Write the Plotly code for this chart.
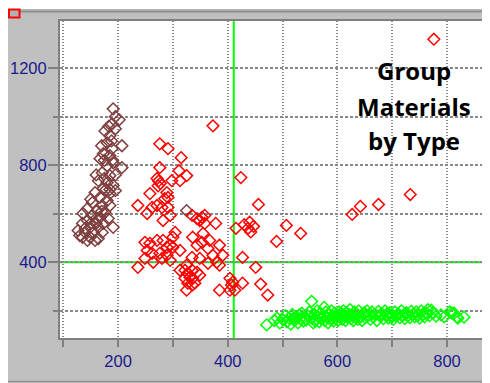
import plotly.graph_objects as go

# ---------------- data ----------------
brown_x = [191,202,189,176,195,185,207,180,189,173,185,167,191,180,207,171,185,164,180,191,
           173,158,185,167,180,195,153,171,185,144,162,176,136,153,167,182,144,158,173,135,
           149,164,127,140,155,171,135,149,164,144,158,191,160,175,190,170,183,195,178,150,
           160,150,140,130,160,170,185,195,175,188,325]
brown_y = [1032,987,970,941,950,921,880,892,868,847,839,827,810,798,790,769,757,736,728,716,
           704,687,683,667,654,695,646,634,634,621,613,605,601,593,585,580,572,564,560,560,
           544,544,531,523,523,523,503,503,498,490,490,544,760,745,820,880,960,1000,700,660,
           580,560,540,510,560,610,700,760,820,900,613]

red_x = [373,276,291,315,276,311,325,313,298,271,274,277,273,424,258,289,291,285,
         236,262,271,280,291,253,282,295,335,344,349,353,358,378,358,
         304,300,249,258,271,282,295,289,300,313,336,355,353,367,344,364,385,253,262,276,289,
         249,264,280,236,295,335,349,373,391,380,364,385,
         313,325,322,327,335,331,336,322,344,327,335,325,340,349,385,404,409,407,413,404,
         415,430,440,437,442,447,456,507,533,489,427,451,427,460,473,627,642,675,733,776]
red_y = [962,888,868,831,790,777,757,736,736,745,735,725,715,749,683,687,667,662,
         634,626,634,626,626,601,572,593,593,580,572,585,593,560,560,
         523,503,482,478,490,490,470,462,462,449,503,519,482,490,470,457,470,449,437,437,429,
         416,400,416,379,408,420,416,429,429,400,396,388,
         367,388,367,355,367,338,334,334,359,314,306,285,314,347,285,334,318,306,285,285,
         540,555,565,540,525,548,638,552,519,486,420,379,314,310,265,597,630,638,679,1319]

green_x = [471,485,490,495,500,505,508,512,515,518,522,525,528,532,535,538,540,
           543,546,549,553,556,558,561,563,565,567,569,571,575,577,579,581,583,585,587,589,
           591,593,595,597,599,601,603,605,607,609,611,613,615,617,619,621,623,625,627,629,
           631,633,635,637,639,642,645,648,651,654,657,660,663,666,669,672,675,678,681,684,
           687,690,693,696,699,702,705,708,711,714,717,720,723,726,729,732,735,738,741,744,
           747,750,753,756,759,762,765,768,771,775,780,789,795,805,809,813,818,820,831,
           553,576,520,560,590,610,640,680,700,530,570,600,650,690,725]
green_y = [142,160,170,150,165,180,155,170,145,185,160,175,150,168,190,158,175,
           162,180,195,170,150,185,165,200,175,155,190,170,180,160,195,172,150,185,165,200,
           178,158,190,170,182,160,195,175,188,165,200,178,160,192,172,185,205,168,180,160,
           195,175,188,165,200,178,160,190,172,200,182,165,195,175,185,160,198,178,188,168,
           200,180,170,192,182,165,195,178,188,172,200,182,168,192,180,172,198,185,175,195,
           180,170,200,185,175,190,205,180,203,192,178,183,175,195,191,190,174,170,174,
           239,214,170,158,168,185,170,182,175,182,168,178,190,186,185]

x_ticks = [200, 400, 600, 800]
y_ticks = [400, 800, 1200]
title_lines = ["Group", "Materials", "by Type"]
h_line_y = 400
v_line_x = 411

# ---------------- figure ----------------
OFF = 8                      # page body margin of the html page
W, H = 490 - OFF, 383 - OFF  # figure size
PL, PR, PT, PB = 60, 484, 21, 338   # plot area in window pixels
L, T = PL - OFF, PT - OFF
R, B = W - (PR - OFF), H - (PB - OFF)
pw, ph = PR - PL, PB - PT

def px(p):  # window pixel x -> paper
    return (p - PL) / pw

def py(p):  # window pixel y -> paper
    return 1 - (p - PT) / ph

mk = dict(symbol="diamond-open", size=9, line=dict(width=1.5))
fig = go.Figure()
fig.add_trace(go.Scatter(x=brown_x, y=brown_y, mode="markers",
                         marker=dict(mk, color="#7f3f3f"), name="A"))
fig.add_trace(go.Scatter(x=red_x, y=red_y, mode="markers",
                         marker=dict(mk, color="#ff0000"), name="B"))
fig.add_trace(go.Scatter(x=green_x, y=green_y, mode="markers",
                         marker=dict(mk, color="#00ff00"), name="C"))

tickfont = dict(family="Liberation Sans, Arial, sans-serif", size=16.5, color="#1a1a8c")

fig.update_layout(
    template="none",
    width=W, height=H,
    margin=dict(l=L, r=R, t=T, b=B, autoexpand=False),
    paper_bgcolor="#c0c0c0",
    plot_bgcolor="white",
    showlegend=False,
    xaxis=dict(range=[94, 867.5], tickvals=x_ticks, ticks="outside", ticklen=7,
               tickcolor="#808080", tickwidth=1.5, tickfont=tickfont,
               showgrid=True, gridcolor="#888888", gridwidth=2, griddash="1px,2px",
               minor=dict(dtick=100, tick0=0, ticks="outside", ticklen=7, tickcolor="#808080",
                          showgrid=True, gridcolor="#888888", gridwidth=2, griddash="1px,2px"),
               showline=True, linecolor="#808080", linewidth=2, mirror=True,
               zeroline=False, automargin=False, fixedrange=True),
    yaxis=dict(range=[88, 1394], tickvals=y_ticks, ticks="outside", ticklen=10,
               tickcolor="#808080", tickwidth=1.5, tickfont=tickfont, ticklabelstandoff=-2,
               showgrid=True, gridcolor="#888888", gridwidth=1.5, griddash="3px,2px",
               minor=dict(dtick=200, tick0=0, ticks="outside", ticklen=5, tickcolor="#808080",
                          showgrid=True, gridcolor="#888888", gridwidth=1.5, griddash="3px,2px"),
               showline=True, linecolor="#808080", linewidth=2, mirror=True,
               zeroline=False, automargin=False, fixedrange=True),
)

shapes = []
# white strips around the grey frame
shapes.append(dict(type="rect", xref="paper", yref="paper", x0=px(-2), x1=px(W + OFF + 2), y0=py(-2), y1=py(9),
                   fillcolor="white", line=dict(width=0), layer="below"))
shapes.append(dict(type="rect", xref="paper", yref="paper", x0=px(488), x1=px(W + OFF + 2), y0=py(-2), y1=py(H + OFF + 2),
                   fillcolor="white", line=dict(width=0), layer="below"))
# frame edge lines
shapes.append(dict(type="line", xref="paper", yref="paper", x0=px(487), x1=px(487), y0=py(9), y1=py(382),
                   line=dict(color="#909090", width=1.5), layer="below"))
shapes.append(dict(type="line", xref="paper", yref="paper", x0=px(6), x1=px(488), y0=py(381.5), y1=py(381.5),
                   line=dict(color="#909090", width=1.5), layer="below"))
# top bar
shapes.append(dict(type="rect", xref="paper", yref="paper", x0=px(6), x1=px(488), y0=py(9), y1=py(13.5),
                   fillcolor="#b4b4b4", line=dict(width=0), layer="below"))
shapes.append(dict(type="line", xref="paper", yref="paper", x0=px(6), x1=px(488), y0=py(11.5), y1=py(11.5),
                   line=dict(color="#8c8c8c", width=1.5), layer="below"))
# small red square at top left
shapes.append(dict(type="rect", xref="paper", yref="paper", x0=px(9), x1=px(19.5), y0=py(9.5), y1=py(17.5),
                   fillcolor="#b0b0b0", line=dict(color="#ff0000", width=2), layer="below"))
# green cross lines
shapes.append(dict(type="line", xref="paper", yref="y", x0=0, x1=1, y0=h_line_y, y1=h_line_y,
                   line=dict(color="#00ff00", width=2), layer="between"))
shapes.append(dict(type="line", xref="x", yref="paper", x0=v_line_x, x1=v_line_x, y0=0, y1=1,
                   line=dict(color="#00ff00", width=2), layer="between"))
fig.update_layout(shapes=shapes)

title_y = [py(70), py(106), py(140)]
for txt, yy in zip(title_lines, title_y):
    fig.add_annotation(text="<b>%s</b>" % txt, xref="paper", yref="paper", x=px(414), y=yy,
                       xanchor="center", yanchor="middle", showarrow=False,
                       font=dict(family="Open Sans, sans-serif", size=24, color="black"))

fig.write_html("out.html")
